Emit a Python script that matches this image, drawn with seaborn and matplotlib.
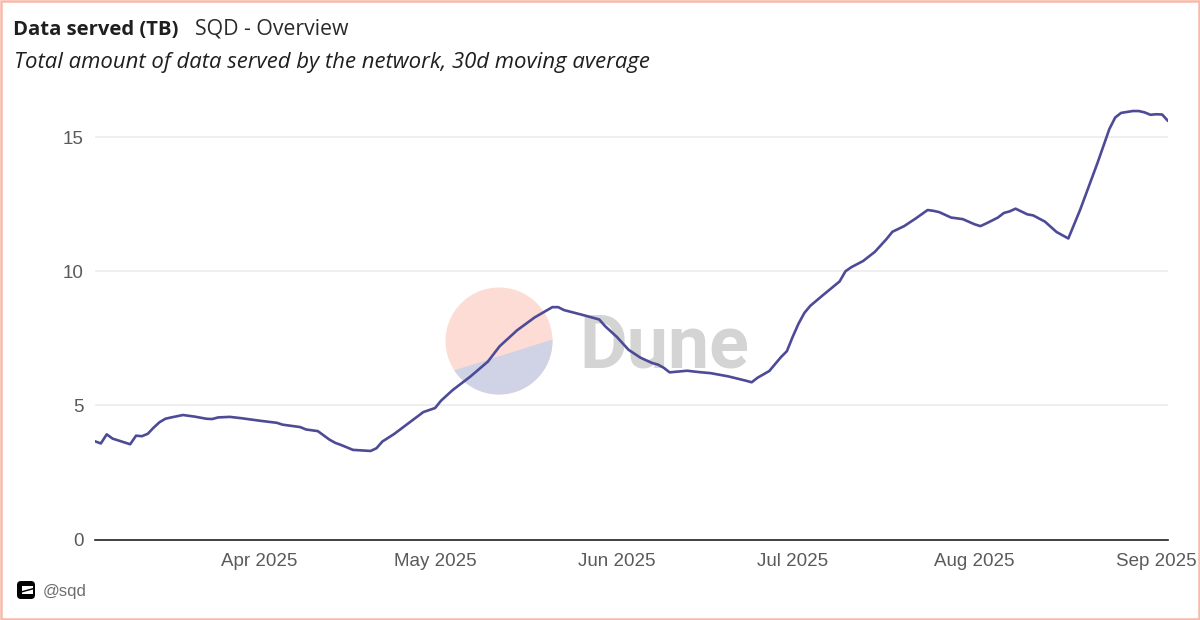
import pandas as pd
import matplotlib
matplotlib.use('Agg')
import matplotlib.pyplot as plt
import matplotlib.dates as mdates
from matplotlib.patches import Circle, FancyBboxPatch, Polygon, Rectangle
import seaborn as sns

# Values
dates = ['03-04', '03-05', '03-06', '03-07', '03-08', '03-09', '03-10', '03-11', '03-12', '03-13',
         '03-14', '03-15', '03-16', '03-17', '03-19', '03-21', '03-23', '03-24', '03-25', '03-27',
         '03-29', '04-01', '04-04', '04-05', '04-06', '04-08', '04-09', '04-11', '04-13', '04-14',
         '04-15', '04-17', '04-20', '04-21', '04-22', '04-24', '04-29', '05-01', '05-02', '05-04',
         '05-07', '05-10', '05-12', '05-15', '05-18', '05-21', '05-22', '05-23', '05-26', '05-29',
         '05-30', '06-01', '06-03', '06-05', '06-07', '06-08', '06-09', '06-10', '06-13', '06-15',
         '06-17', '06-20', '06-23', '06-24', '06-25', '06-27', '06-29', '06-30', '07-01', '07-02',
         '07-03', '07-04', '07-06', '07-09', '07-10', '07-11', '07-13', '07-15', '07-17', '07-18',
         '07-20', '07-22', '07-24', '07-25', '07-26', '07-28', '07-30', '08-01', '08-02', '08-03',
         '08-05', '08-06', '08-07', '08-08', '08-10', '08-11', '08-13', '08-15', '08-17', '08-19',
         '08-22', '08-24', '08-25', '08-26', '08-28', '08-29', '08-30', '08-31', '09-01', '09-02',
         '09-03']
served_tb = [3.66, 3.58, 3.92, 3.76, 3.69, 3.62, 3.55, 3.87, 3.85, 3.94,
             4.17, 4.37, 4.50, 4.55, 4.64, 4.58, 4.50, 4.49, 4.55, 4.57,
             4.52, 4.43, 4.35, 4.28, 4.25, 4.19, 4.10, 4.04, 3.72, 3.60,
             3.52, 3.34, 3.30, 3.40, 3.65, 3.93, 4.75, 4.90, 5.17, 5.57,
             6.07, 6.63, 7.20, 7.80, 8.28, 8.66, 8.66, 8.55, 8.38, 8.20,
             7.95, 7.55, 7.07, 6.78, 6.58, 6.52, 6.40, 6.23, 6.29, 6.24,
             6.20, 6.08, 5.92, 5.86, 6.03, 6.28, 6.80, 7.02, 7.56, 8.05,
             8.45, 8.71, 9.08, 9.62, 10.00, 10.15, 10.38, 10.72, 11.20, 11.47,
             11.68, 11.97, 12.28, 12.25, 12.20, 12.00, 11.94, 11.75, 11.68, 11.78,
             12.00, 12.17, 12.23, 12.33, 12.12, 12.08, 11.85, 11.46, 11.22, 12.28,
             14.05, 15.30, 15.73, 15.90, 15.97, 15.97, 15.92, 15.83, 15.85, 15.84,
             15.60]
y_ticks = [0, 5, 10, 15]
x_ticks = ['2025-04-01', '2025-05-01', '2025-06-01', '2025-07-01', '2025-08-01', '2025-09-01']

df = pd.DataFrame({'date': pd.to_datetime(['2025-' + d for d in dates]), 'served': served_tb})

sns.set_theme(style='white')
plt.rcParams['font.family'] = ['Liberation Sans', 'DejaVu Sans']

fig = plt.figure(figsize=(12, 6.2), dpi=100, facecolor='white')

# Overlay in pixel coordinates for frame, watermark and header
bg = fig.add_axes([0, 0, 1, 1], zorder=0)
bg.set_xlim(0, 1200)
bg.set_ylim(620, 0)
bg.axis('off')
bg.add_patch(Rectangle((1, 1), 1198, 618, fill=False, ec='#f9b9aa', lw=1.8))

disc = Circle((499, 341), 53.5, fc='#fddcd6', ec='none')
bg.add_patch(disc)
lower = Polygon([(430, 378), (570, 334), (570, 410), (430, 410)], fc='#d0d2e5', ec='none')
bg.add_patch(lower)
lower.set_clip_path(disc)
bg.text(579, 367, 'Dune', fontsize=53, fontweight='bold', color='#d4d4d4', family='Roboto',
        ha='left', va='baseline')

bg.text(13, 35, 'Data served (TB)', fontsize=14.6, fontweight='bold', color='#1f1f1f',
        family='Open Sans', ha='left', va='baseline')
bg.text(195, 35, 'SQD - Overview', fontsize=15.3, color='#2a2a2a',
        family='Open Sans', ha='left', va='baseline')
bg.text(14, 68, 'Total amount of data served by the network, 30d moving average', fontsize=15.9,
        style='italic', color='#1f1f1f', family='Open Sans', ha='left', va='baseline')

bg.add_patch(FancyBboxPatch((20, 584), 12, 12, boxstyle='round,pad=3,rounding_size=4',
                            fc='black', ec='none'))
bg.add_patch(Polygon([(22, 586), (33, 586), (33, 588), (22, 591)], fc='white', ec='none'))
bg.add_patch(Polygon([(22, 592.5), (33, 589.5), (33, 594), (22, 594)], fc='white', ec='none'))
bg.text(43, 596, '@sqd', fontsize=12, color='#6e6e6e', ha='left', va='baseline')

# Chart
ax = fig.add_axes([95 / 1200, (620 - 539.5) / 620, 1073 / 1200, 439.5 / 620], zorder=1)
ax.patch.set_alpha(0)
sns.lineplot(data=df, x='date', y='served', ax=ax, color='#4d4b96', lw=1.9, zorder=3)

ax.set_xlim(pd.Timestamp('2025-03-04'), pd.Timestamp('2025-09-03'))
ax.set_ylim(0, 439.5 / 26.83)
ax.set_yticks(y_ticks)
ax.set_xticks(pd.to_datetime(x_ticks))
ax.xaxis.set_major_formatter(mdates.DateFormatter('%b %Y'))
ax.set_xlabel('')
ax.set_ylabel('')
ax.grid(axis='y', color='#ececec', lw=1.2)
ax.grid(axis='x', visible=False)
ax.set_axisbelow(True)
sns.despine(ax=ax, left=True, top=True, right=True)
ax.spines['bottom'].set_color('#222222')
ax.spines['bottom'].set_linewidth(1.2)
ax.tick_params(axis='both', length=0, labelsize=13.5, labelcolor='#5a5a5a')
ax.tick_params(axis='x', pad=10)
ax.tick_params(axis='y', pad=8)

fig.savefig('out.png', dpi=100)
